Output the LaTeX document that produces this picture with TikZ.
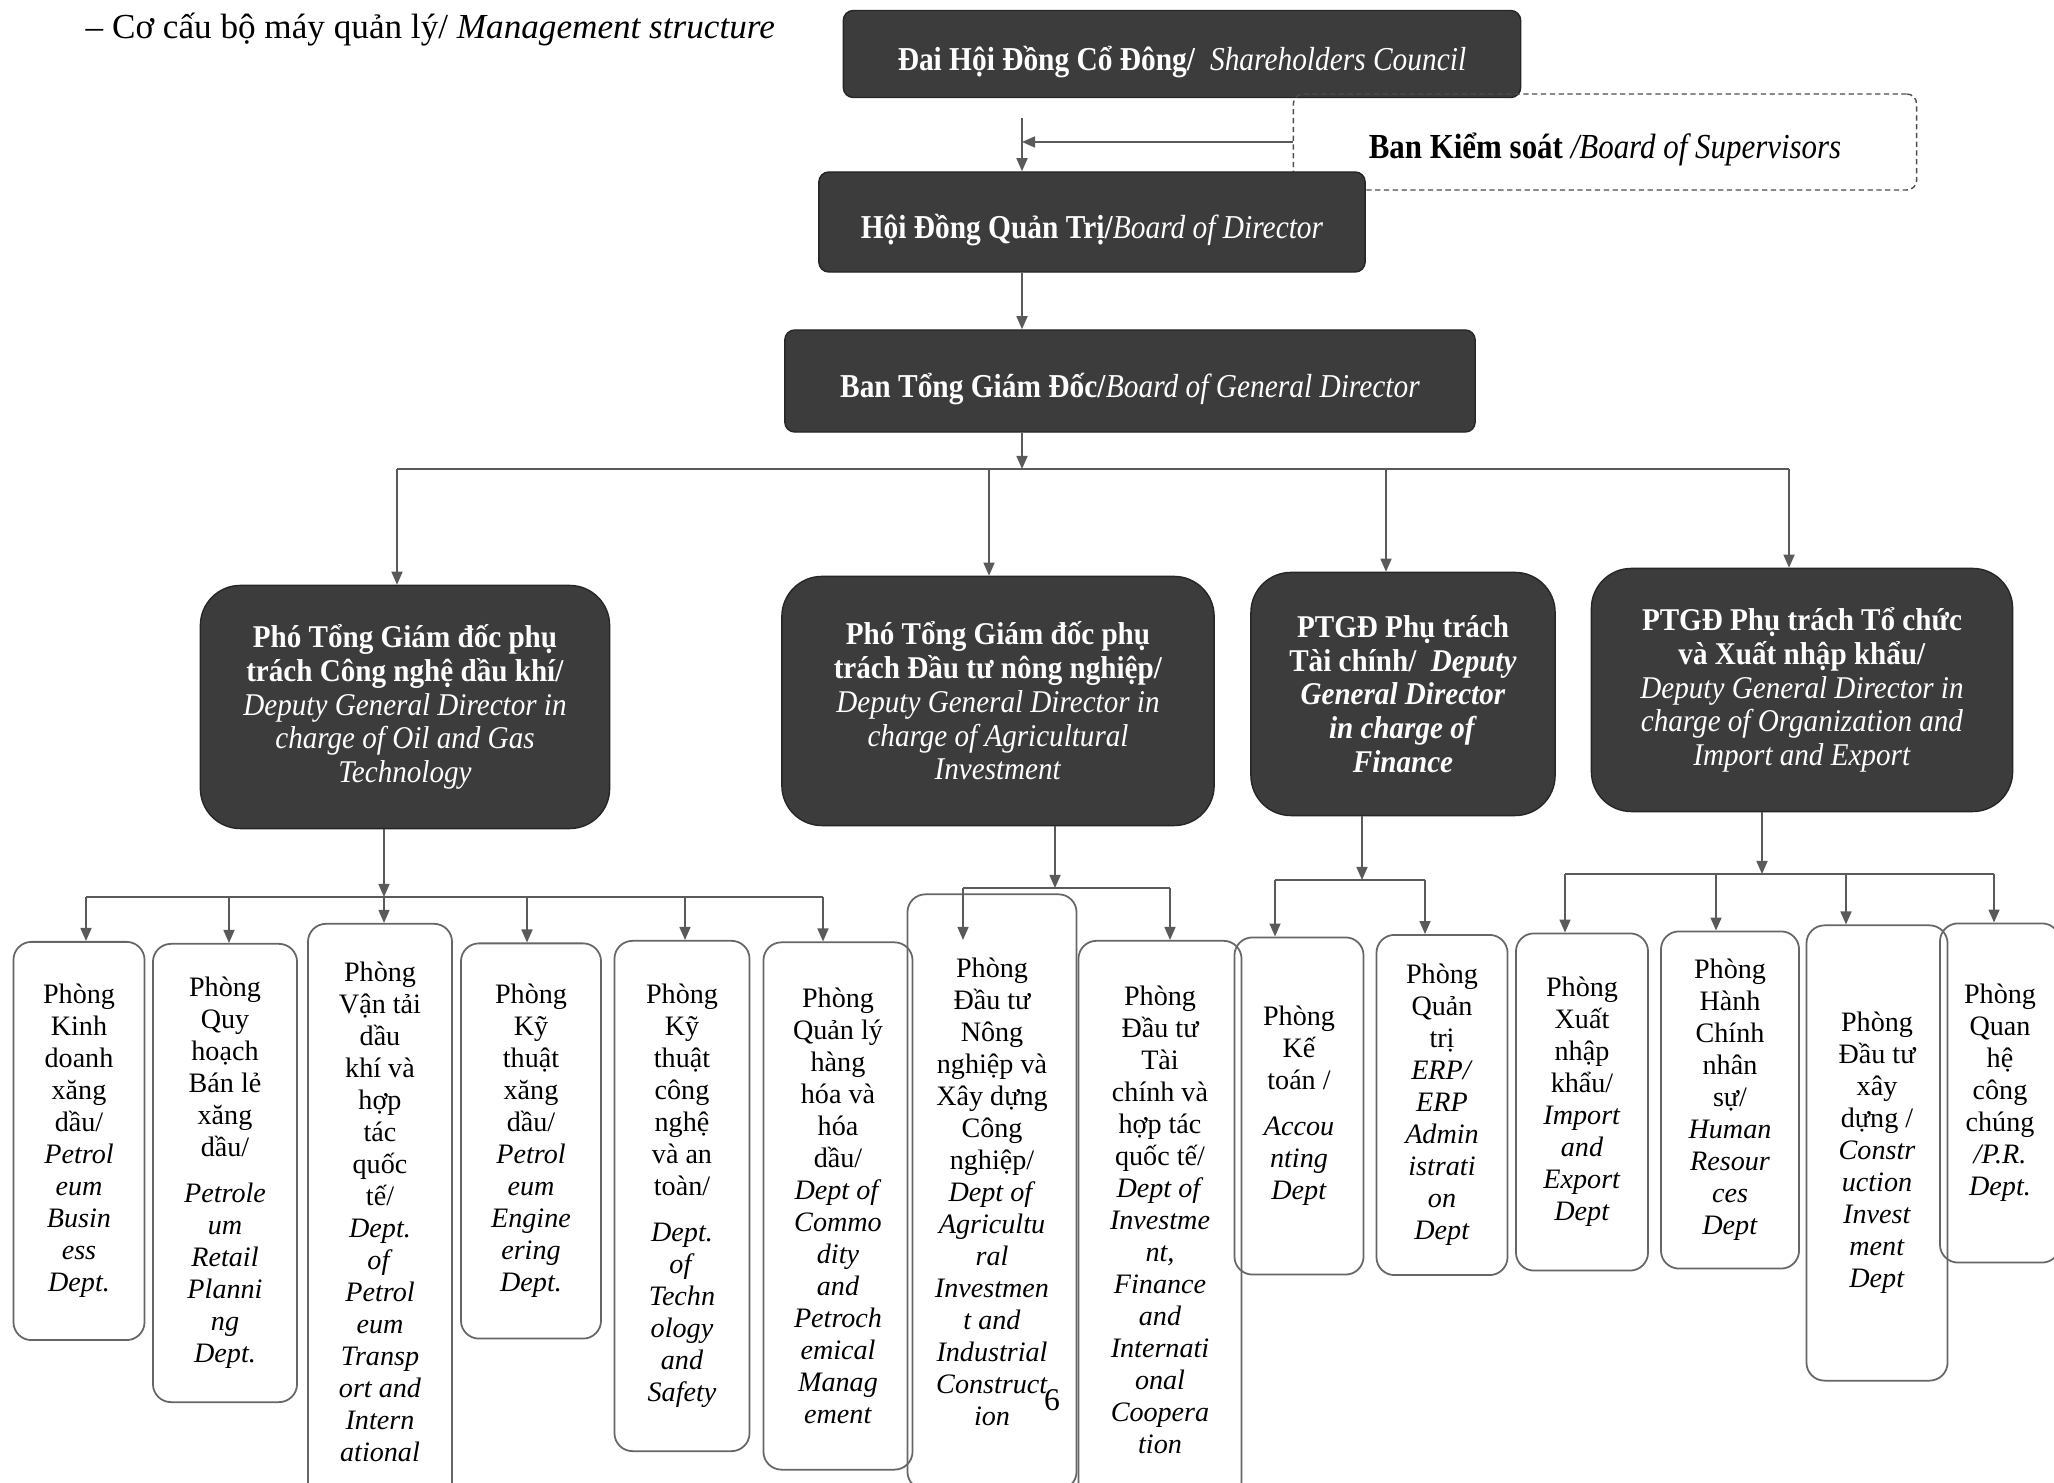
\documentclass[tikz,border=0pt]{standalone}
\usepackage{fontspec}
\setmainfont{Liberation Serif}
\newfontfamily\cnd[FakeStretch=0.88]{Liberation Serif}
\newfontfamily\dep[FakeStretch=0.92]{Liberation Serif}
\usetikzlibrary{arrows.meta}
\definecolor{boxgray}{HTML}{3C3C3C}
\definecolor{linegray}{HTML}{5A5A5A}
\newcommand{\low}[1]{\raisebox{-2.2pt}[\height][\depth]{#1}}
\begin{document}
\begin{tikzpicture}[x=0.01cm,y=-0.01cm,
    top/.style={draw=black!85,fill=boxgray,rounded corners=0.1cm,text=white,
        font=\cnd\fontsize{9.5}{11}\selectfont},
    vice/.style={draw=black!85,fill=boxgray,rounded corners=0.4cm,text=white,
        align=center,font=\dep\fontsize{9}{9.6}\selectfont},
    dept/.style={draw=black!60,line width=0.5pt,rounded corners=0.18cm,
        align=center,inner sep=0pt,font=\fontsize{8}{9.1}\selectfont},
    link/.style={draw=linegray,line width=0.45pt},
    arr/.style={link,-{Triangle[length=0.13cm,width=0.11cm]}}]
    \useasboundingbox (0,0) rectangle (2054,1483);
    \clip (0,0) rectangle (2054,1483);
    \node[anchor=west,inner sep=0pt,font=\fontsize{10}{12}\selectfont] (title) at (85,30)
        {– Cơ cấu bộ máy quản lý/ \textit{Management structure}};
    \node[top,minimum width=6.77cm,minimum height=0.87cm] (dhcd) at (1182,54)
        {\low{\textbf{Đai Hội Đồng Cổ Đông/}\ \ \textit{Shareholders Council}}};
    \node[top,draw=black!70,fill=none,text=black,dash pattern=on 1.5pt off 1pt,
        font=\cnd\fontsize{10}{12}\selectfont,minimum width=6.23cm,minimum height=0.96cm]
        (bks) at (1605,142) {\low{\textbf{Ban Kiểm soát} \textit{/Board of Supervisors}}};
    \node[top,minimum width=5.46cm,minimum height=1cm] (hdqt) at (1092,222)
        {\low{\textbf{Hội Đồng Quản Trị/}\textit{Board of Director}}};
    \node[top,minimum width=6.9cm,minimum height=1.02cm] (btgd) at (1130,381)
        {\low{\textbf{Ban Tổng Giám Đốc/}\textit{Board of General Director}}};

    \node[vice,minimum width=4.09cm,minimum height=2.43cm] (pho1) at (405,707)
        {\textbf{Phó Tổng Giám đốc phụ}\\\textbf{trách Công nghệ dầu khí/}\\
        \textit{Deputy General Director in}\\\textit{charge of Oil and Gas}\\\textit{Technology}};
    \node[vice,minimum width=4.32cm,minimum height=2.49cm] (pho2) at (998,701)
        {\textbf{Phó Tổng Giám đốc phụ}\\\textbf{trách Đầu tư nông nghiệp/}\\
        \textit{Deputy General Director in}\\\textit{charge of Agricultural}\\\textit{Investment}};
    \node[vice,minimum width=3.04cm,minimum height=2.43cm] (pho3) at (1403,694)
        {\textbf{PTGĐ Phụ trách}\\\textbf{Tài chính/\ \ \textit{Deputy}}\\
        \textbf{\textit{General Director}}\\\textbf{\textit{in charge of}}\\\textbf{\textit{Finance}}};
    \node[vice,minimum width=4.21cm,minimum height=2.43cm] (pho4) at (1802,690)
        {\textbf{PTGĐ Phụ trách Tổ chức}\\\textbf{và Xuất nhập khẩu/}\\
        \textit{Deputy General Director in}\\\textit{charge of Organization and}\\\textit{Import and Export}};

    \node[dept,minimum width=1.31cm,minimum height=3.98cm] (kd) at (79,1141)
        {Phòng\\Kinh\\doanh\\xăng\\dầu/\\\textit{Petrol}\\\textit{eum}\\\textit{Busin}\\\textit{ess}\\\textit{Dept.}};
    \node[dept,minimum width=1.44cm,minimum height=4.58cm] (qh) at (225,1173)
        {Phòng\\Quy\\hoạch\\Bán lẻ\\xăng\\dầu/\\[4pt]\textit{Petrole}\\\textit{um}\\\textit{Retail}\\\textit{Planni}\\\textit{ng}\\\textit{Dept.}};
    \node[dept,minimum width=1.44cm,minimum height=5.76cm] (vt) at (380,1212)
        {Phòng\\Vận tải\\dầu\\khí và\\hợp\\tác\\quốc\\tế/\\\textit{Dept.}\\\textit{of}\\\textit{Petrol}\\\textit{eum}\\\textit{Transp}\\\textit{ort and}\\\textit{Intern}\\\textit{ational}};
    \node[dept,minimum width=1.40cm,minimum height=3.95cm] (ktxd) at (531,1141)
        {Phòng\\Kỹ\\thuật\\xăng\\dầu/\\\textit{Petrol}\\\textit{eum}\\\textit{Engine}\\\textit{ering}\\\textit{Dept.}};
    \node[dept,minimum width=1.35cm,minimum height=5.10cm] (ktcn) at (682,1196)
        {Phòng\\Kỹ\\thuật\\công\\nghệ\\và an\\toàn/\\[4pt]\textit{Dept.}\\\textit{of}\\\textit{Techn}\\\textit{ology}\\\textit{and}\\\textit{Safety}};
    \node[dept,minimum width=1.49cm,minimum height=5.27cm] (qlhh) at (838,1206)
        {Phòng\\Quản lý\\hàng\\hóa và\\hóa\\dầu/\\\textit{Dept of}\\\textit{Commo}\\\textit{dity}\\\textit{and}\\\textit{Petroch}\\\textit{emical}\\\textit{Manag}\\\textit{ement}};
    \node[dept,minimum width=1.69cm,minimum height=5.95cm] (dtnn) at (992,1192)
        {Phòng\\Đầu tư\\Nông\\nghiệp và\\Xây dựng\\Công\\nghiệp/\\\textit{Dept of}\\\textit{Agricultu}\\\textit{ral}\\\textit{Investmen}\\\textit{t and}\\\textit{Industrial}\\\textit{Construct}\\\textit{ion}};
    \node[dept,minimum width=1.63cm,minimum height=5.58cm] (dttc) at (1160,1220)
        {Phòng\\Đầu tư\\Tài\\chính và\\hợp tác\\quốc tế/\\\textit{Dept of}\\\textit{Investme}\\\textit{nt,}\\\textit{Finance}\\\textit{and}\\\textit{Internati}\\\textit{onal}\\\textit{Coopera}\\\textit{tion}};
    \node[dept,minimum width=1.29cm,minimum height=3.37cm] (kt) at (1299,1106)
        {Phòng\\Kế\\toán /\\[4pt]\textit{Accou}\\\textit{nting}\\\textit{Dept}};
    \node[dept,minimum width=1.31cm,minimum height=3.40cm] (erp) at (1442,1105)
        {Phòng\\Quản\\trị\\\textit{ERP/}\\\textit{ERP}\\\textit{Admin}\\\textit{istrati}\\\textit{on}\\\textit{Dept}};
    \node[dept,minimum width=1.32cm,minimum height=3.37cm] (xnk) at (1582,1102)
        {Phòng\\Xuất\\nhập\\khẩu/\\\textit{Import}\\\textit{and}\\\textit{Export}\\\textit{Dept}};
    \node[dept,minimum width=1.38cm,minimum height=3.37cm] (hcns) at (1730,1100)
        {Phòng\\Hành\\Chính\\nhân\\sự/\\\textit{Human}\\\textit{Resour}\\\textit{ces}\\\textit{Dept}};
    \node[dept,minimum width=1.41cm,minimum height=4.55cm] (dtxd) at (1877,1153)
        {Phòng\\Đầu tư\\xây\\dựng /\\\textit{Constr}\\\textit{uction}\\\textit{Invest}\\\textit{ment}\\\textit{Dept}};
    \node[dept,minimum width=1.20cm,minimum height=3.39cm] (qhcc) at (2000,1093)
        {Phòng\\Quan\\hệ\\công\\chúng\\\textit{/P.R.}\\\textit{Dept.}};
    \node[font=\fontsize{9}{10}\selectfont] (trang) at (1052,1400) {6};

    \coordinate (truc) at (1022,469);
    \draw[arr,shorten <=0.2cm] (dhcd.south -| truc) -- (hdqt.north -| truc);
    \draw[arr] (bks.west) -- (bks.west -| truc);
    \draw[arr] (hdqt.south -| truc) -- (btgd.north -| truc);
    \draw[arr] (btgd.south -| truc) -- (truc);

    \coordinate (s1) at (397,469);
    \coordinate (s2) at (989,469);
    \coordinate (s3) at (1386,469);
    \coordinate (s4) at (1789,469);
    \draw[link] (s1) -- (s4);
    \draw[arr] (s1) -- (s1 |- pho1.north);
    \draw[arr] (s2) -- (s2 |- pho2.north);
    \draw[arr] (s3) -- (s3 |- pho3.north);
    \draw[arr] (s4) -- (s4 |- pho4.north);

    \coordinate (t1) at (86,897);
    \coordinate (t2) at (229,897);
    \coordinate (t3) at (384,897);
    \coordinate (t4) at (527,897);
    \coordinate (t5) at (685,897);
    \coordinate (t6) at (823,897);
    \draw[arr] (pho1.south -| t3) -- (t3);
    \draw[link] (t1) -- (t6);
    \draw[arr] (t1) -- (t1 |- kd.north);
    \draw[arr] (t2) -- (t2 |- qh.north);
    \draw[arr] (t3) -- (t3 |- vt.north);
    \draw[arr] (t4) -- (t4 |- ktxd.north);
    \draw[arr] (t5) -- (t5 |- ktcn.north);
    \draw[arr] (t6) -- (t6 |- qlhh.north);

    \coordinate (u0) at (1055,888);
    \coordinate (u1) at (963,888);
    \coordinate (u2) at (1170,888);
    \draw[arr] (pho2.south -| u0) -- (u0);
    \draw[link] (u1) -- (u2);
    \draw[arr] (u1) -- (u1 |- dttc.north);
    \draw[arr] (u2) -- (u2 |- dttc.north);

    \coordinate (v0) at (1362,880);
    \coordinate (v1) at (1275,880);
    \coordinate (v2) at (1425,880);
    \draw[arr] (pho3.south -| v0) -- (v0);
    \draw[link] (v1) -- (v2);
    \draw[arr] (v1) -- (v1 |- kt.north);
    \draw[arr] (v2) -- (v2 |- erp.north);

    \coordinate (w0) at (1762,874);
    \coordinate (w1) at (1565,874);
    \coordinate (w2) at (1716,874);
    \coordinate (w3) at (1846,874);
    \coordinate (w4) at (1994,874);
    \draw[arr] (pho4.south -| w0) -- (w0);
    \draw[link] (w1) -- (w4);
    \draw[arr] (w1) -- (w1 |- xnk.north);
    \draw[arr] (w2) -- (w2 |- hcns.north);
    \draw[arr] (w3) -- (w3 |- dtxd.north);
    \draw[arr] (w4) -- (w4 |- qhcc.north);
\end{tikzpicture}
\end{document}
